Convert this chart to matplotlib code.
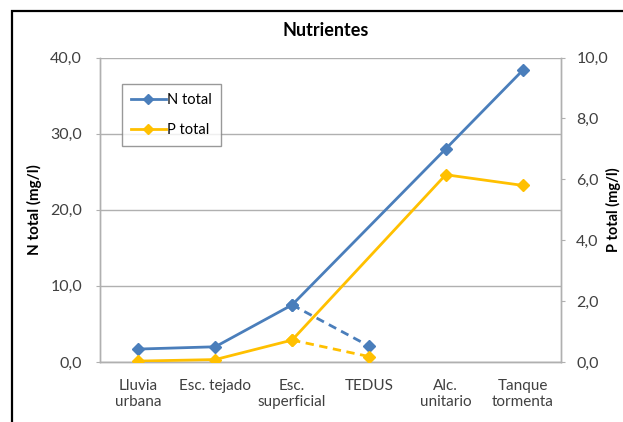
import numpy as np
import matplotlib.pyplot as plt
from matplotlib.patches import Rectangle
from matplotlib.lines import Line2D
from matplotlib.ticker import FuncFormatter, MultipleLocator

plt.rcParams['font.family'] = ['Lato', 'DejaVu Sans']

categorias = ['Lluvia\nurbana', 'Esc. tejado', 'Esc.\nsuperficial', 'TEDUS',
              'Alc.\nunitario', 'Tanque\ntormenta']
n_total = [1.7, 2.0, 7.5, 2.1, 28.0, 38.3]
p_total = [0.03, 0.08, 0.72, 0.18, 6.15, 5.8]
# TEDUS (index 3) va aparte, unido con discontinua desde Esc. superficial
serie_continua = [0, 1, 2, 4, 5]
serie_tedus = [2, 3]

azul = '#4a7ebb'
amarillo = '#ffc000'
gris = '#b0b0b0'
texto = '#404040'

fig = plt.figure(figsize=(6.23, 4.22), dpi=100)
ax = fig.add_axes([100 / 623, 60 / 422, 461 / 623, 304.5 / 422])
ax2 = ax.twinx()

x = np.arange(len(categorias))
xs = x[serie_continua]
xt = x[serie_tedus]
n = np.array(n_total)
p = np.array(p_total)

ax.plot(xs, n[serie_continua], color=azul, lw=2, marker='D', ms=6, zorder=4)
ax.plot(xt, n[serie_tedus], color=azul, lw=2, ls=(0, (3, 2)), marker='D', ms=6, zorder=4)
ax2.plot(xs, p[serie_continua], color=amarillo, lw=2, marker='D', ms=6, zorder=3)
ax2.plot(xt, p[serie_tedus], color=amarillo, lw=2, ls=(0, (3, 2)), marker='D', ms=6, zorder=3)

ax.set_xlim(-0.5, len(categorias) - 0.5)
ax.set_ylim(0, 40)
ax2.set_ylim(0, 10)
ax.yaxis.set_major_locator(MultipleLocator(10))
ax2.yaxis.set_major_locator(MultipleLocator(2))
coma = FuncFormatter(lambda v, pos: f'{v:.1f}'.replace('.', ','))
ax.yaxis.set_major_formatter(coma)
ax2.yaxis.set_major_formatter(coma)

ax.set_xticks(x)
ax.set_xticklabels(categorias, fontsize=11, color=texto, linespacing=1.25)
ax.tick_params(axis='x', length=0, pad=12)
ax.tick_params(axis='y', length=3, color=gris, labelsize=11.5, labelcolor=texto, pad=10)
ax2.tick_params(axis='y', length=3, color=gris, labelsize=11.5, labelcolor=texto, pad=8)

ax.grid(axis='y', color=gris, lw=1)
ax.set_axisbelow(True)
for a in (ax, ax2):
    a.spines['top'].set_visible(False)
    for s in ('left', 'right', 'bottom'):
        a.spines[s].set_color(gris)
        a.spines[s].set_linewidth(1)

ax.set_ylabel('N total (mg/l)', fontsize=11, fontweight='bold')
ax.yaxis.set_label_coords(-0.126, 0.5)
ax2.set_ylabel('P total (mg/l)', fontsize=10.5, fontweight='bold', rotation=90)
ax2.yaxis.set_label_coords(1.098, 0.5)
fig.text(326 / 623, 1 - 30 / 422, 'Nutrientes', ha='center', va='center',
         fontsize=13, fontweight='bold')

handles = [Line2D([], [], color=azul, lw=2, marker='D', ms=5),
           Line2D([], [], color=amarillo, lw=2, marker='D', ms=5)]
leg = ax.legend(handles, ['N total', 'P total'], loc='upper left',
                bbox_to_anchor=(22 / 461, (362 - 84) / 304.5), borderaxespad=0,
                fontsize=10.5, frameon=True, fancybox=False, handlelength=2.4,
                handletextpad=0.1, borderpad=0.6, labelspacing=1.1)
leg.get_frame().set_edgecolor('#808080')
leg.get_frame().set_linewidth(1)
leg.set_zorder(10)

# marco negro del gráfico
fig.patches.append(Rectangle((11.5 / 623, -0.1), 1.2, 1 - 11.5 / 422 + 0.1,
                             transform=fig.transFigure, fill=False,
                             edgecolor='black', lw=1.6))

fig.savefig('out.png', dpi=100)
